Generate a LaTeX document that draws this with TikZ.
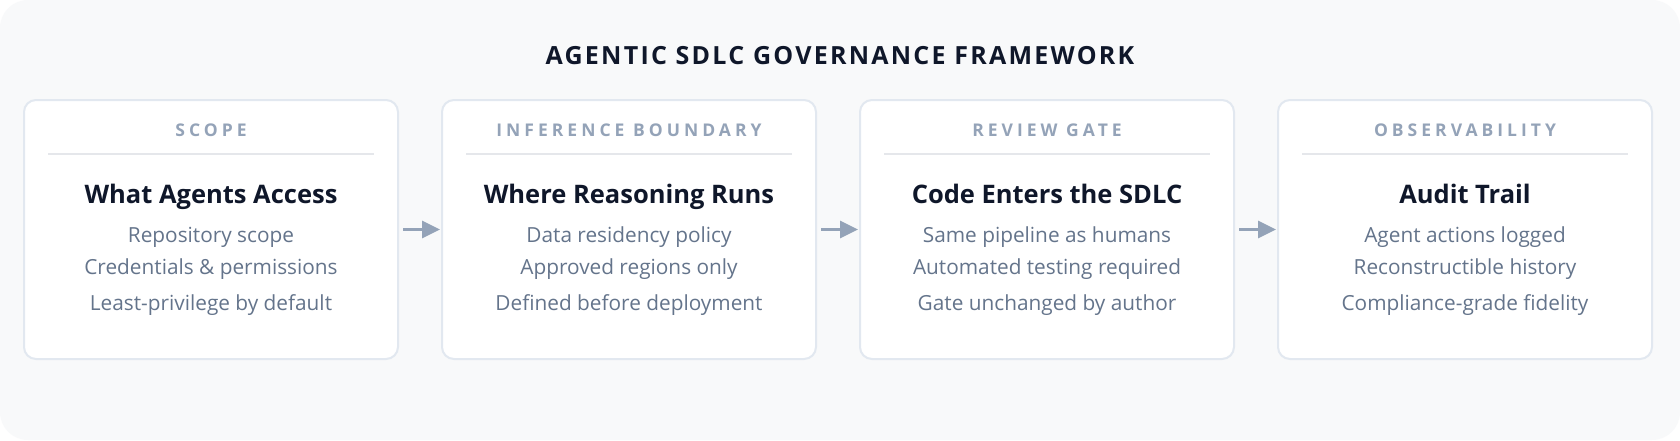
\documentclass[tikz,border=0pt]{standalone}
\usepackage{fontspec}
\setmainfont{Open Sans}
\newfontfamily\hdrfont[LetterSpace=23]{Open Sans}
\newfontfamily\ttlfont[LetterSpace=9]{Open Sans}
\definecolor{bgc}{HTML}{F8F9FA}
\definecolor{cardline}{HTML}{E2E8F0}
\definecolor{hdrc}{HTML}{94A3B8}
\definecolor{divc}{HTML}{E5E7EB}
\definecolor{titc}{HTML}{0F172A}
\definecolor{bodyc}{HTML}{64748B}
\definecolor{arrc}{HTML}{94A3B8}
\usetikzlibrary{arrows.meta}
\tikzset{
  card/.style={draw=cardline, line width=2pt, fill=white, rounded corners=12pt,
    minimum width=374pt, minimum height=259pt, inner sep=0pt},
  hdr/.style={anchor=base, text=hdrc, font=\hdrfont\fontsize{17.5}{20}\selectfont\bfseries, inner sep=0pt},
  ctitle/.style={anchor=base, text=titc, font=\fontsize{25.5}{30}\selectfont\bfseries, inner sep=0pt},
  body/.style={anchor=base, text=bodyc, font=\fontsize{20.8}{24}\selectfont, inner sep=0pt},
  divline/.style={draw=divc, line width=2pt},
  arr/.style={draw=arrc, line width=3pt, -{Triangle[length=18pt,width=17pt]}},
  maintitle/.style={anchor=base, text=titc, font=\ttlfont\fontsize{25}{30}\selectfont\bfseries, inner sep=0pt}
}
\begin{document}
\begin{tikzpicture}[x=1pt,y=-1pt]
\useasboundingbox (0,0) rectangle (1680,440);
\fill[white] (0,0) rectangle (1680,440);
\fill[bgc, rounded corners=28pt] (0,0) rectangle (1680,440);
\node[maintitle] (title) at (840,64) {AGENTIC SDLC GOVERNANCE FRAMEWORK};
\foreach \i/\h/\t/\a/\b/\c in {
  1/SCOPE/What Agents Access/Repository scope/Credentials \& permissions/Least-privilege by default,
  2/INFERENCE BOUNDARY/Where Reasoning Runs/Data residency policy/Approved regions only/Defined before deployment,
  3/REVIEW GATE/Code Enters the SDLC/Same pipeline as humans/Automated testing required/Gate unchanged by author,
  4/OBSERVABILITY/Audit Trail/Agent actions logged/Reconstructible history/Compliance-grade fidelity}{
  \pgfmathsetmacro{\cx}{211+418*(\i-1)}
  \node[card] (c\i) at (\cx,229.5) {};
  \node[hdr] (h\i) at (\cx,136) {\h};
  \coordinate (dl\i) at (\cx-163,153.5);
  \coordinate (dr\i) at (\cx+163,153.5);
  \draw[divline] (dl\i) -- (dr\i);
  \node[ctitle] (t\i) at (\cx,203) {\t};
  \node[body] (ba\i) at (\cx,242) {\a};
  \node[body] (bb\i) at (\cx,274) {\b};
  \node[body] (bc\i) at (\cx,310) {\c};
}
\foreach \i/\j in {1/2,2/3,3/4}{
  \draw[arr] ([xshift=4pt]c\i.east) -- ([xshift=-1pt]c\j.west);
}
\end{tikzpicture}
\end{document}
